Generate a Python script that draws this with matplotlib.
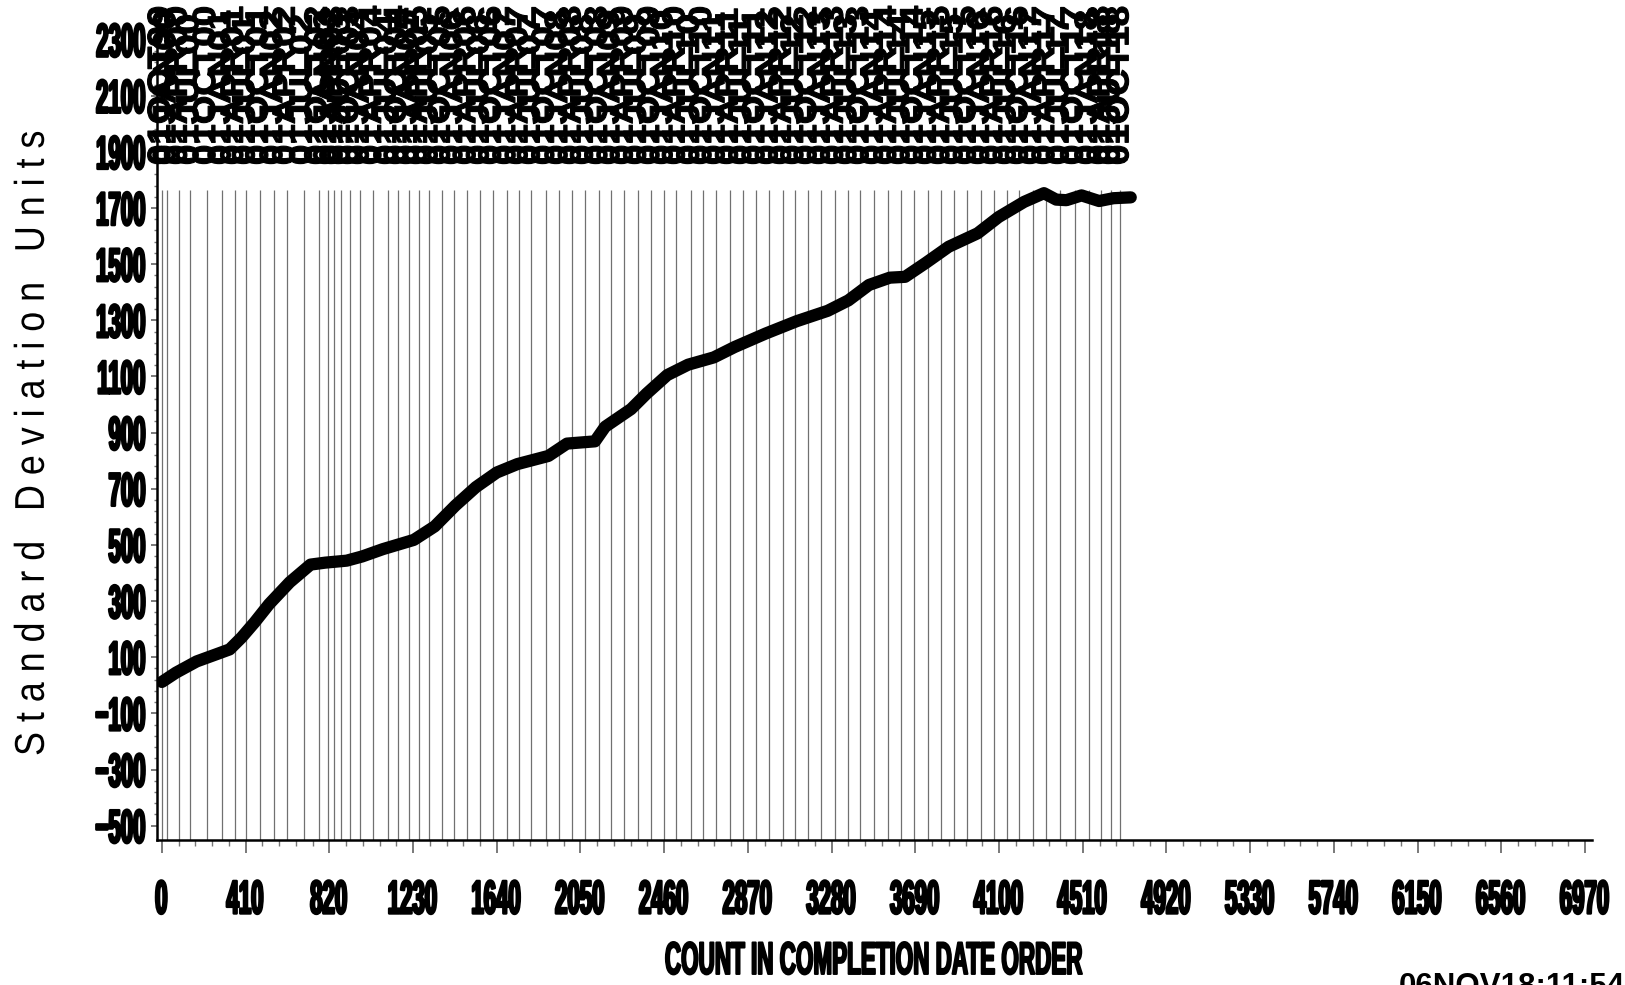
import numpy as np
import matplotlib
matplotlib.use("Agg")
import matplotlib.pyplot as plt
from matplotlib.patheffects import AbstractPathEffect
from matplotlib.transforms import Affine2D


class Squash(AbstractPathEffect):
    """Draw text squeezed (or stretched) along its baseline, SAS style."""

    def __init__(self, sx, align="center", lw=0.0):
        super().__init__()
        self.sx = sx
        self.align = align
        self.lw = lw

    def draw_path(self, renderer, gc, tpath, affine, rgbFace=None):
        w = tpath.vertices[:, 0].max() if len(tpath.vertices) else 0.0
        k = {"left": 0.0, "center": 0.5, "right": 1.0}[self.align]
        tr = Affine2D().scale(self.sx, 1.0).translate(k * (1 - self.sx) * w, 0) + affine
        gc0 = renderer.new_gc()
        gc0.copy_properties(gc)
        if self.lw:
            gc0.set_linewidth(self.lw)
            gc0.set_foreground(rgbFace)
        renderer.draw_path(gc0, tpath, tr, rgbFace)
        gc0.restore()


# cumulative curve
count = [0, 69, 170, 272, 332, 390, 455, 525, 626, 728, 801, 905, 981, 1082,
         1234, 1336, 1437, 1538, 1640, 1741, 1893, 1984, 2121, 2171, 2298,
         2374, 2475, 2577, 2703, 2805, 2957, 3109, 3261, 3362, 3463, 3565,
         3640, 3742, 3853, 3995, 4098, 4223, 4320, 4380, 4430, 4504, 4590,
         4660, 4745]
sd_units = [12, 45, 85, 112, 128, 170, 225, 289, 367, 430, 437, 444, 459, 485,
            518, 566, 640, 706, 758, 788, 817, 861, 869, 921, 984,
            1039, 1105, 1142, 1168, 1205, 1253, 1297, 1334, 1371, 1426, 1452,
            1455, 1505, 1562, 1610, 1668, 1722, 1753, 1730, 1728, 1745, 1725,
            1735, 1738]

# reference lines (quarter starts) in count units
ref_pos = [0, 26, 82, 138, 221, 295, 357, 414, 479, 549, 611, 694, 768, 813,
           843, 879, 923, 972, 1033, 1107, 1157, 1209, 1258, 1309, 1370, 1430,
           1495, 1560, 1620, 1690, 1750, 1810, 1880, 1945, 2010, 2070, 2140,
           2200, 2265, 2330, 2395, 2460, 2520, 2590, 2650, 2715, 2780, 2845,
           2910, 2975, 3040, 3100, 3165, 3230, 3295, 3360, 3420, 3490, 3555,
           3620, 3685, 3750, 3815, 3880, 3945, 4010, 4075, 4140, 4200, 4265,
           4330, 4400, 4470, 4540, 4600, 4650, 4694]
months = ["JAN", "APR", "JUL", "OCT"]
ref_labels = ["01OCT99"] + [f"01{months[i % 4]}{(i // 4) % 100:02d}"
                            for i in range(len(ref_pos) - 1)]

xticks = list(range(0, 6971, 410))
yticks = list(range(-500, 2301, 200))

fig = plt.figure(figsize=(16.25, 9.85), dpi=100)
ax = fig.add_axes([0.0966, 0.1472, 0.8831, 0.8223])

ax.vlines(ref_pos, -551, 1764, colors="#707070", linewidth=0.9, zorder=1)
ax.plot(count, sd_units, color="black", linewidth=8.8, solid_capstyle="round",
        solid_joinstyle="round", zorder=3)

for x, lab in zip(ref_pos, ref_labels):
    ax.text(x, 1853, lab, rotation=90, ha="center", va="bottom",
            fontsize=23, fontweight="bold", family="Liberation Sans",
            clip_on=False, zorder=4, path_effects=[Squash(1.15, "left", lw=0.8)])

ax.set_xlim(-24, 7004)
ax.set_ylim(-551, 2334)

for s in ["top", "right"]:
    ax.spines[s].set_visible(False)
for s in ["left", "bottom"]:
    ax.spines[s].set_linewidth(1.8)

ax.set_xticks(xticks, [str(v) for v in xticks])
ax.set_xticks(np.arange(0, 6971, 82), minor=True)
ax.set_yticks(yticks, [str(v).replace("-", "\u2212") for v in yticks])
ax.set_yticks(np.arange(-500, 2301, 40), minor=True)

ax.tick_params(axis="x", which="major", length=9.4, width=1.1, color="#555555",
               pad=19, labelsize=34)
ax.tick_params(axis="x", which="minor", length=4.3, width=1.0, color="#777777")
ax.tick_params(axis="y", which="major", length=4.3, width=1.1, color="#555555",
               pad=3, labelsize=34)
ax.tick_params(axis="y", which="minor", length=2.5, width=1.0, color="#777777")

for t in ax.get_xticklabels():
    t.set_family("Liberation Sans")
    t.set_fontweight("bold")
    t.set_path_effects([Squash(0.47, "center", lw=1.8)])
for t in ax.get_yticklabels():
    t.set_family("Liberation Sans")
    t.set_fontweight("bold")
    t.set_path_effects([Squash(0.47, "right", lw=1.8)])

ax.set_xlabel("COUNT IN COMPLETION DATE ORDER", fontsize=33, fontweight="bold",
              family="Liberation Sans", va="center",
              path_effects=[Squash(0.49, "center", lw=1.4)])
ax.xaxis.set_label_coords(0.5, -0.1506)

ax.set_ylabel("S t a n d a r d   D e v i a t i o n   U n i t s", fontsize=30,
              family="Liberation Sans", va="center", ha="center",
              path_effects=[Squash(0.86, "center")])
ax.yaxis.set_label_coords(-0.0865, 0.49)

fig.text(1399 / 1625, 1 - 972 / 985, "06NOV18:11:54", fontsize=22.5,
         fontweight="bold", family="Liberation Sans", ha="left", va="top")

fig.savefig("out.png", dpi=100)
